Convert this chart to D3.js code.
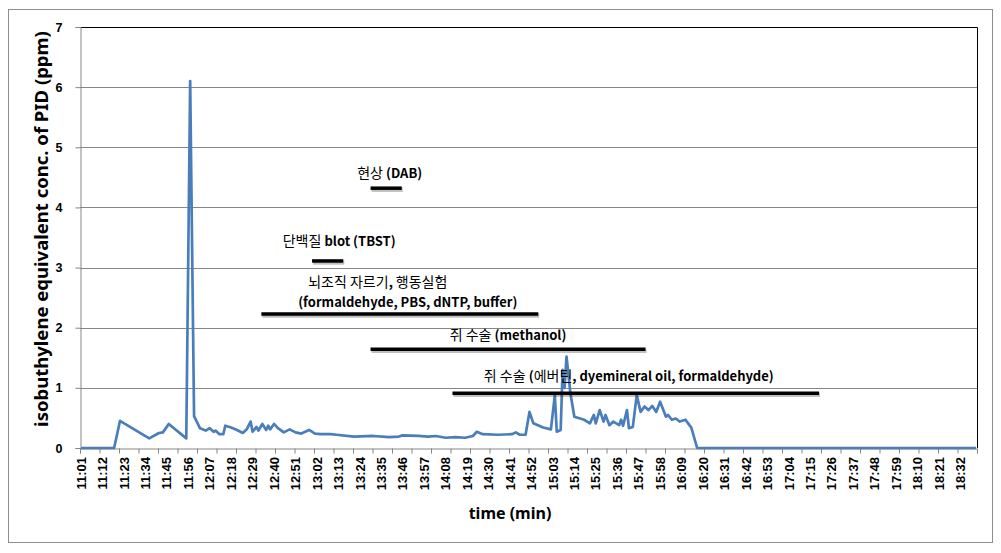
<!DOCTYPE html>
<html>
<head>
<meta charset="utf-8">
<script src="https://cdn.jsdelivr.net/npm/d3@7"></script>
<style>
  html, body { margin: 0; padding: 0; background: #fff; }
  svg { display: block; }
</style>
</head>
<body>
<div id="chart"></div>
<script>
// ---------------- DATA ----------------
const startTime = "11:01";
const endTime = "18:41";           // one minute after the last category (18:40)
const labelStep = 11;              // a label every 11 minutes
const tickStep = 10;               // a tick mark every 10 minutes
const yTicks = [0, 1, 2, 3, 4, 5, 6, 7];

const times = ["11:01","11:18","11:21","11:36","11:41","11:43","11:46","11:55","11:57","11:59",
  "12:02","12:05","12:07","12:09","12:10","12:12","12:14","12:15","12:18","12:21",
  "12:24","12:26","12:28","12:29","12:31","12:32","12:34","12:36","12:37","12:38",
  "12:40","12:42","12:45","12:48","12:51","12:54","12:56","12:58","13:01","13:04",
  "13:09","13:12","13:21","13:31","13:39","13:44","13:46","13:54","13:59","14:03",
  "14:08","14:13","14:18","14:22","14:24","14:27","14:35","14:42","14:44","14:46",
  "14:49","14:51","14:53","14:58","15:02","15:04","15:05","15:07","15:08","15:09",
  "15:10","15:12","15:14","15:17","15:19","15:22","15:24","15:25","15:27","15:29",
  "15:30","15:32","15:34","15:37","15:38","15:39","15:41","15:42","15:44","15:46",
  "15:48","15:50","15:52","15:54","15:56","15:58","16:01","16:02","16:04","16:06",
  "16:08","16:11","16:13","16:14","16:17","18:40"];
const ppm = [0,0,0.45,0.16,0.25,0.26,0.40,0.16,6.10,0.53,
  0.33,0.29,0.33,0.27,0.29,0.23,0.23,0.37,0.34,0.30,
  0.25,0.31,0.44,0.27,0.35,0.29,0.40,0.30,0.37,0.31,
  0.40,0.33,0.26,0.31,0.26,0.24,0.27,0.30,0.24,0.23,
  0.23,0.22,0.19,0.20,0.18,0.19,0.21,0.20,0.19,0.20,
  0.17,0.18,0.17,0.20,0.27,0.23,0.22,0.23,0.26,0.22,
  0.22,0.60,0.41,0.34,0.31,0.88,0.27,0.30,1.30,1.00,
  1.52,0.91,0.52,0.49,0.47,0.41,0.55,0.41,0.63,0.44,
  0.55,0.38,0.44,0.38,0.47,0.37,0.63,0.33,0.35,0.88,
  0.60,0.69,0.63,0.70,0.60,0.77,0.52,0.55,0.47,0.49,
  0.44,0.47,0.38,0.34,0,0];

// activity annotations (time ranges and their level in ppm)
const annText = ["현상 (DAB)", "단백질 blot (TBST)", "뇌조직 자르기, 행동실험|(formaldehyde, PBS, dNTP, buffer)",
                 "쥐 수술 (methanol)", "쥐 수술 (에버틴, dyemineral oil, formaldehyde)"];
const annStart = ["13:30", "13:00", "12:34", "13:30", "14:12"];
const annEnd   = ["13:46", "13:16", "14:56", "15:51", "17:20"];
const annLevel = [4.32, 3.11, 2.23, 1.64, 0.91];

const yTitle = "isobuthylene equivalent conc. of PID (ppm)";
const xTitle = "time (min)";

// ---------------- LAYOUT ----------------
const W = 1001, H = 553;
const m = { left: 80, right: 977, top: 27, bottom: 448 };
// label placement relative to each annotation bar (pixels): [dx, dy] per text line
const annLabelOffsets = [
  [[3.5, -15.6]],
  [[11.5, -21]],
  [[-22, -32.5], [8, -12.5]],
  [[0, -15.3]],
  [[-7, -18.3]]
];

const toMin = s => { const [h, mm] = s.split(":").map(Number); return h * 60 + mm; };
const t0 = toMin(startTime);
const nCat = toMin(endTime) - t0;
const idx = s => toMin(s) - t0;
const fmt = i => { const t = t0 + i; const h = Math.floor(t / 60), mm = t % 60; return h + ":" + String(mm).padStart(2, "0"); };

const x = d3.scaleLinear().domain([0, nCat]).range([m.left, m.right]);
const y = d3.scaleLinear().domain([0, 7]).range([m.bottom, m.top]);

const svg = d3.select("#chart").append("svg").attr("width", W).attr("height", H)
  .style("font-family", "'Liberation Sans', Arial, sans-serif");

svg.append("rect").attr("width", W).attr("height", H).attr("fill", "#fff");
// outer chart border
svg.append("rect").attr("x", 8.5).attr("y", 9.5).attr("width", 984).attr("height", 533)
  .attr("fill", "none").attr("stroke", "#8e8e8e").attr("stroke-width", 1);

// gridlines
svg.append("g").selectAll("line").data(yTicks.filter(v => v > 0 && v < 7)).join("line")
  .attr("x1", m.left).attr("x2", m.right)
  .attr("y1", d => Math.round(y(d)) + 0.5).attr("y2", d => Math.round(y(d)) + 0.5)
  .attr("stroke", "#868686").attr("stroke-width", 1);

// plot area top & right border
svg.append("path")
  .attr("d", `M${m.left},${m.top + 0.5}H${m.right + 0.5}V${m.bottom}`)
  .attr("fill", "none").attr("stroke", "#000").attr("stroke-width", 1);

// Y axis
const yAxis = svg.append("g").attr("transform", `translate(${m.left + 0.5},0)`)
  .call(d3.axisLeft(y).tickValues(yTicks).tickSize(5).tickPadding(13).tickFormat(d3.format("d")));
yAxis.select(".domain").attr("stroke", "#868686");
yAxis.selectAll(".tick line").attr("stroke", "#868686");
yAxis.selectAll(".tick text").attr("fill", "#000").style("font-size", "12.5px").style("font-weight", "bold")
  .style("font-family", "'Liberation Sans', Arial, sans-serif");

// X axis (ticks every 10 min on category boundaries)
const tickVals = d3.range(0, nCat + 1, tickStep);
const xAxis = svg.append("g").attr("transform", `translate(0,${m.bottom + 0.5})`)
  .call(d3.axisBottom(x).tickValues(tickVals).tickSize(5).tickFormat(""));
xAxis.select(".domain").attr("stroke", "#868686");
xAxis.selectAll(".tick line").attr("stroke", "#868686");

// X labels every 11 categories (centered on category)
const labelIdx = d3.range(0, nCat, labelStep);
svg.append("g").selectAll("text").data(labelIdx).join("text")
  .attr("transform", d => `translate(${x(d + 0.5)},457) rotate(-90)`)
  .attr("text-anchor", "end").attr("dy", "0.36em")
  .style("font-size", "13px").style("font-weight", "bold").attr("fill", "#000")
  .text(d => fmt(d));

// data line
const pts = times.map((t, i) => ({ i: idx(t), v: ppm[i] }));
svg.append("path").datum(pts)
  .attr("d", d3.line().x(d => x(d.i + 0.5)).y(d => y(d.v)))
  .attr("fill", "none").attr("stroke", "#4a7ebb").attr("stroke-width", 2.7)
  .attr("stroke-linejoin", "round");

// annotation bars
const annG = svg.append("g");
annText.forEach((txt, k) => {
  const x1 = x(idx(annStart[k])), x2 = x(idx(annEnd[k])), yy = y(annLevel[k]);
  // soft shadow
  annG.append("line").attr("x1", x1 + 1).attr("x2", x2 + 1).attr("y1", yy + 1.5).attr("y2", yy + 1.5)
    .attr("stroke", "#000").attr("stroke-opacity", 0.25).attr("stroke-width", 4.5);
  annG.append("line").attr("x1", x1).attr("x2", x2).attr("y1", yy).attr("y2", yy)
    .attr("stroke", "#000").attr("stroke-width", 3.5);
  const cx = (x1 + x2) / 2;
  txt.split("|").forEach((lineTxt, j) => {
    const [dx, dy] = annLabelOffsets[k][j];
    const t = annG.append("text").attr("x", cx + dx).attr("y", yy + dy)
      .attr("text-anchor", "middle").attr("dy", "0.35em")
      .style("font-family", "'Noto Sans CJK KR', 'Noto Sans', sans-serif").attr("fill", "#000");
    lineTxt.split(/([\uAC00-\uD7A3][\uAC00-\uD7A3 ]*)/).filter(s => s.length).forEach(seg => {
      const kor = /[\uAC00-\uD7A3]/.test(seg);
      t.append("tspan").text(seg)
        .style("font-size", kor ? "14px" : "13px")
        .style("font-weight", kor ? "normal" : "bold");
    });
  });
});

// axis titles
svg.append("text").attr("transform", "translate(42,229) rotate(-90)")
  .attr("text-anchor", "middle").attr("dy", "0.35em")
  .style("font-family", "'Noto Sans', sans-serif").style("font-size", "18.5px").style("font-weight", "bold")
  .text(yTitle);
svg.append("text").attr("x", 510).attr("y", 513).attr("text-anchor", "middle").attr("dy", "0.35em")
  .style("font-family", "'Noto Sans', sans-serif").style("font-size", "16px").style("font-weight", "bold")
  .text(xTitle);
</script>
</body>
</html>
